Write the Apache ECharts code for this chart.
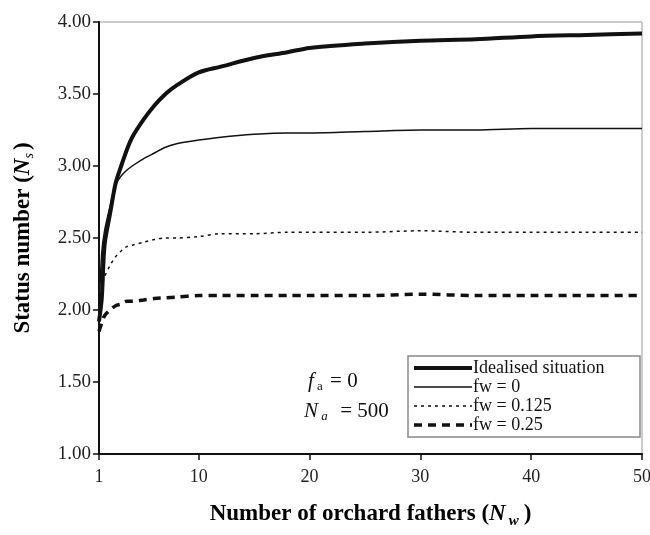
<!DOCTYPE html>
<html>
<head>
<meta charset="utf-8">
<script src="https://cdn.jsdelivr.net/npm/echarts@6/dist/echarts.min.js"></script>
<style>
  html, body { margin: 0; padding: 0; background: #fff; }
  #chart { width: 650px; height: 535px; }
</style>
</head>
<body>
<div id="chart"></div>
<script>
// number of orchard fathers (x values)
var nw = [1, 1.25, 1.5, 2, 2.5, 3, 3.5, 4, 5, 6, 7, 8, 10, 12, 15, 18, 20, 25, 30, 35, 40, 45, 50];
// status number for each case
var idealised = [1.92, 2.08, 2.45, 2.67, 2.88, 3.0, 3.11, 3.2, 3.32, 3.42, 3.5, 3.56, 3.65, 3.69, 3.75, 3.79, 3.82, 3.85, 3.87, 3.88, 3.9, 3.91, 3.92];
var fw0 = [2.0, 2.4, 2.55, 2.72, 2.87, 2.93, 2.97, 3.0, 3.05, 3.09, 3.13, 3.155, 3.18, 3.2, 3.22, 3.23, 3.23, 3.24, 3.25, 3.25, 3.26, 3.26, 3.26];
var fw0125 = [2.0, 2.16, 2.23, 2.31, 2.37, 2.41, 2.44, 2.45, 2.47, 2.49, 2.5, 2.5, 2.51, 2.53, 2.53, 2.54, 2.54, 2.54, 2.55, 2.54, 2.54, 2.54, 2.54];
var fw025 = [1.85, 1.91, 1.96, 2.0, 2.03, 2.04, 2.06, 2.06, 2.07, 2.08, 2.085, 2.09, 2.1, 2.1, 2.1, 2.1, 2.1, 2.1, 2.11, 2.1, 2.1, 2.1, 2.1];
var xTicks = [1, 10, 20, 30, 40, 50];
var seriesNames = ['Idealised situation', 'fw = 0', 'fw = 0.125', 'fw = 0.25'];

function pairs(ys) {
    return nw.map(function (x, i) { return [x, ys[i]]; });
}

var serif = 'Liberation Serif';
var myChart = echarts.init(document.getElementById('chart'));

var styles = [
    { color: '#111', width: 4 },
    { color: '#111', width: 1.5 },
    { color: '#111', width: 1.5, type: [3, 4] },
    { color: '#111', width: 3.5, type: [8, 6] }
];
var allValues = [idealised, fw0, fw0125, fw025];

var option = {
    backgroundColor: '#fff',
    animation: false,
    grid: {
        left: 99, right: 8, top: 22, bottom: 81,
        outerBoundsMode: 'none',
        show: true, borderColor: '#999', borderWidth: 1
    },
    xAxis: {
        type: 'value', min: 1, max: 50,
        name: '{b|Number of orchard fathers (}{i|N}{sub|w}{b|)}',
        nameLocation: 'middle', nameGap: 46,
        nameTextStyle: {
            rich: {
                b: { fontFamily: serif, fontWeight: 'bold', fontSize: 23, color: '#000' },
                i: { fontFamily: serif, fontWeight: 'bold', fontStyle: 'italic', fontSize: 23, color: '#000' },
                sub: { fontFamily: serif, fontWeight: 'bold', fontStyle: 'italic', fontSize: 15, color: '#000', padding: [14, 5, 0, 3] }
            }
        },
        axisLine: { lineStyle: { color: '#111', width: 2 } },
        axisTick: { customValues: xTicks, length: 6, lineStyle: { color: '#111', width: 1.5 } },
        axisLabel: { customValues: xTicks, fontFamily: serif, fontSize: 18, color: '#222', margin: 14 },
        splitLine: { show: false }
    },
    yAxis: {
        type: 'value', min: 1, max: 4, interval: 0.5,
        name: '{b|Status number (}{i|N}{sub|s}{b|)}',
        nameLocation: 'middle', nameGap: 63, nameRotate: 90,
        nameTextStyle: {
            rich: {
                b: { fontFamily: serif, fontWeight: 'bold', fontSize: 23, color: '#000' },
                i: { fontFamily: serif, fontWeight: 'bold', fontStyle: 'italic', fontSize: 23, color: '#000' },
                sub: { fontFamily: serif, fontStyle: 'italic', fontSize: 14, color: '#000', padding: [12, 3, 0, 0] }
            }
        },
        axisLine: { show: true, lineStyle: { color: '#111', width: 2 } },
        axisTick: { show: true, length: 6, lineStyle: { color: '#111', width: 1.5 } },
        axisLabel: {
            fontFamily: serif, fontSize: 19, color: '#222', margin: 8,
            formatter: function (v) { return v.toFixed(2); }
        },
        splitLine: { show: false }
    },
    legend: {
        orient: 'vertical',
        right: 10, bottom: 98,
        backgroundColor: '#fff',
        borderColor: '#888', borderWidth: 1.5,
        padding: [3, 4, 3, 4],
        itemWidth: 58, itemHeight: 12, itemGap: 1,
        itemStyle: { opacity: 0 },
        textStyle: { fontFamily: serif, fontSize: 18, lineHeight: 16, color: '#111', width: 163, padding: [0, 0, 0, -4] },
        data: seriesNames.map(function (n, i) { return { name: n, lineStyle: styles[i] }; })
    },
    graphic: [
        {
            type: 'text', left: 308, top: 371,
            style: {
                text: '{i|f}{sub| a}{n| = 0}',
                rich: {
                    i: { fontFamily: serif, fontStyle: 'italic', fontSize: 21, fill: '#111' },
                    sub: { fontFamily: serif, fontSize: 13, fill: '#111', padding: [10, 2, 0, 0] },
                    n: { fontFamily: serif, fontSize: 21, fill: '#111' }
                }
            }
        },
        {
            type: 'text', left: 304, top: 401,
            style: {
                text: '{i|N}{sub| a}{n|  = 500}',
                rich: {
                    i: { fontFamily: serif, fontStyle: 'italic', fontSize: 21, fill: '#111' },
                    sub: { fontFamily: serif, fontStyle: 'italic', fontSize: 13, fill: '#111', padding: [10, 2, 0, 0] },
                    n: { fontFamily: serif, fontSize: 21, fill: '#111' }
                }
            }
        }
    ],
    series: seriesNames.map(function (n, i) {
        return {
            name: n, type: 'line', data: pairs(allValues[i]),
            symbol: 'none', smooth: 0.3,
            lineStyle: styles[i], itemStyle: { color: '#111' }
        };
    })
};

myChart.setOption(option);
</script>
</body>
</html>
